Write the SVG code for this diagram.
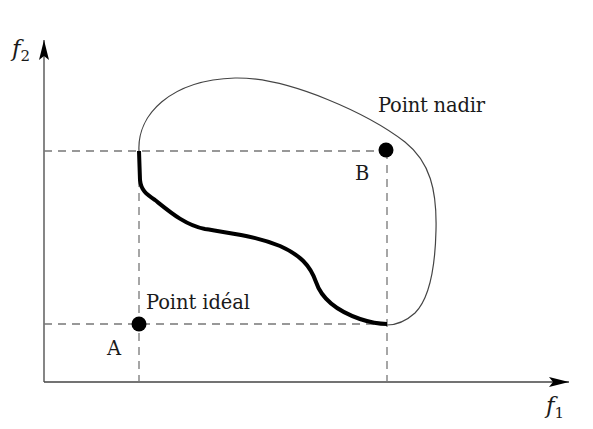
<svg xmlns="http://www.w3.org/2000/svg" width="593" height="429" viewBox="0 0 593 429">
<defs>
<style>
.axis{stroke:#444;stroke-width:1.3;fill:none}
.dash{stroke:#777;stroke-width:1.3;stroke-dasharray:8 6;fill:none}
.lbl{font-family:"DejaVu Serif","Liberation Serif",serif;font-size:19.5px;fill:#1a1a1a}
.it{font-family:"DejaVu Serif","Liberation Serif",serif;font-style:italic;font-size:23px;fill:#1a1a1a}
.sub{font-family:"DejaVu Serif","Liberation Serif",serif;font-style:normal;font-size:15px;fill:#1a1a1a}
</style>
<marker id="arr" viewBox="0 0 20 10" refX="20" refY="5" markerWidth="20" markerHeight="10" markerUnits="userSpaceOnUse" orient="auto">
<path d="M0,0 L20,5 L0,10 L4,5 Z" fill="#000"/>
</marker>
</defs>
<rect width="593" height="429" fill="#fff"/>
<g id="connectors">
<line class="axis" x1="44" y1="382" x2="44" y2="40" marker-end="url(#arr)"/>
<line class="axis" x1="44" y1="382" x2="569" y2="382" marker-end="url(#arr)"/>
<line class="dash" x1="44" y1="151" x2="387" y2="151"/>
<line class="dash" x1="44" y1="324" x2="387" y2="324"/>
<line class="dash" x1="139" y1="151" x2="139" y2="382"/>
<line class="dash" x1="387" y1="151" x2="387" y2="382"/>
</g>
<g id="region">
<path d="M139,151 C137,115 170,80 235,78 C290,77 370,115 405,142 C430,162 437,190 436,230 C435,275 428,300 415,313 C405,322 395,325 387,325" fill="none" stroke="#444" stroke-width="1.2"/>
</g>
<g id="front">
<path d="M139,151 L140,180 C141,190 146,194 155,200 C170,212 185,225 205,229 C230,233 255,236 280,246 C300,255 310,265 316,282 C322,300 340,312 360,319 C372,323 380,324 387,324" fill="none" stroke="#000" stroke-width="4" stroke-linecap="butt"/>
</g>
<g id="pointA">
<circle cx="139" cy="324" r="7.5" fill="#000"/>
<text class="lbl" x="107" y="355">A</text>
<text class="lbl" x="146" y="309" textLength="104">Point idéal</text>
</g>
<g id="pointB">
<circle cx="386" cy="150" r="7.5" fill="#000"/>
<text class="lbl" x="355" y="180">B</text>
<text class="lbl" x="378" y="112" textLength="107">Point nadir</text>
</g>
<g id="axislabels">
<text class="it" x="12" y="56">f<tspan class="sub" dy="5">2</tspan></text>
<text class="it" x="546" y="413">f<tspan class="sub" dy="5">1</tspan></text>
</g>
</svg>
